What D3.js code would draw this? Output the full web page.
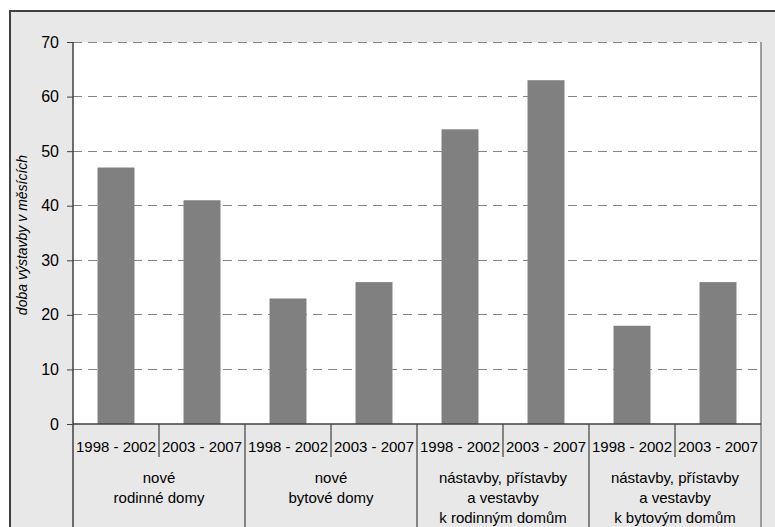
<!DOCTYPE html>
<html>
<head>
<meta charset="utf-8">
<script src="https://cdn.jsdelivr.net/npm/d3@7"></script>
<style>
  html, body { margin: 0; padding: 0; background: #ffffff; }
  svg { display: block; font-family: "Liberation Sans", Arial, sans-serif; }
</style>
</head>
<body>
<svg id="chart" width="775" height="527"></svg>
<script>
// Construction time (months) by building type and period
const groups = [
  ["nové", "rodinné domy"],
  ["nové", "bytové domy"],
  ["nástavby, přístavby", "a vestavby", "k rodinným domům"],
  ["nástavby, přístavby", "a vestavby", "k bytovým domům"]
];
const periods = ["1998 - 2002", "2003 - 2007"];
const values = [47, 41, 23, 26, 54, 63, 18, 26];
const yTicks = [0, 10, 20, 30, 40, 50, 60, 70];
const yTitle = "doba výstavby v měsících";

const svg = d3.select("#chart");
const W = 775, H = 527;
const plot = { left: 73, right: 761, top: 42, bottom: 424 };

// outer frame
svg.append("rect")
  .attr("x", 10).attr("y", 11)
  .attr("width", W + 20).attr("height", H + 20)
  .attr("fill", "#e8e8e8")
  .attr("stroke", "#404040").attr("stroke-width", 2);

// plot area
svg.append("rect")
  .attr("x", plot.left).attr("y", plot.top)
  .attr("width", plot.right - plot.left).attr("height", plot.bottom - plot.top)
  .attr("fill", "#ffffff");

const keys = [];
groups.forEach((g, gi) => periods.forEach((p, pi) => keys.push(gi + "|" + pi)));

const x = d3.scaleBand().domain(keys).range([plot.left, plot.right]).padding(0);
const y = d3.scaleLinear().domain([0, 70]).range([plot.bottom, plot.top]);

// gridlines
svg.append("g")
  .selectAll("line")
  .data(yTicks.filter(t => t > 0))
  .join("line")
  .attr("x1", plot.left).attr("x2", plot.right)
  .attr("y1", d => y(d)).attr("y2", d => y(d))
  .attr("stroke", "#858585").attr("stroke-width", 1)
  .attr("stroke-dasharray", "9,6")
  .attr("shape-rendering", "crispEdges");

// right border of plot, continuing through the category area
svg.append("line")
  .attr("x1", plot.right).attr("x2", plot.right)
  .attr("y1", plot.top).attr("y2", H)
  .attr("stroke", "#808080").attr("stroke-width", 1.5);

// bars
const barW = x.bandwidth() * 0.43;
svg.append("g")
  .selectAll("rect")
  .data(values)
  .join("rect")
  .attr("x", (d, i) => x(keys[i]) + (x.bandwidth() - barW) / 2)
  .attr("y", d => y(d))
  .attr("width", barW)
  .attr("height", d => y(0) - y(d))
  .attr("fill", "#808080");

// y axis
const yAxis = d3.axisLeft(y).tickValues(yTicks).tickSize(6).tickPadding(8);
const yg = svg.append("g")
  .attr("transform", `translate(${plot.left},0)`)
  .call(yAxis);
yg.select(".domain").remove();
yg.selectAll(".tick line").attr("stroke", "#404040");
yg.selectAll(".tick text")
  .attr("fill", "#000")
  .style("font-size", "16px")
  .style("font-family", "'Liberation Sans', Arial, sans-serif");

// left axis line, extending through the category area
svg.append("line")
  .attr("x1", plot.left).attr("x2", plot.left)
  .attr("y1", plot.top).attr("y2", H)
  .attr("stroke", "#404040").attr("stroke-width", 1.5);

// baseline
svg.append("line")
  .attr("x1", plot.left).attr("x2", plot.right)
  .attr("y1", y(0)).attr("y2", y(0))
  .attr("stroke", "#404040").attr("stroke-width", 1.5);

// category separators
const sep = svg.append("g");
keys.forEach((k, i) => {
  if (i === 0) return;
  const isGroup = i % periods.length === 0;
  sep.append("line")
    .attr("x1", x(k)).attr("x2", x(k))
    .attr("y1", y(0)).attr("y2", isGroup ? H : y(0) + 33)
    .attr("stroke", "#404040").attr("stroke-width", 1.2);
});

// period labels
svg.append("g")
  .selectAll("text")
  .data(keys)
  .join("text")
  .attr("x", d => x(d) + x.bandwidth() / 2)
  .attr("y", 452)
  .attr("text-anchor", "middle")
  .style("font-size", "15px")
  .attr("fill", "#000")
  .text(d => periods[+d.split("|")[1]]);

// group labels
groups.forEach((lines, gi) => {
  const cx = (x(gi + "|0") + x(gi + "|" + (periods.length - 1)) + x.bandwidth()) / 2;
  const t = svg.append("text")
    .attr("text-anchor", "middle")
    .style("font-size", "15px")
    .attr("fill", "#000");
  lines.forEach((ln, li) => {
    t.append("tspan").attr("x", cx).attr("y", 483 + li * 20).text(ln);
  });
});

// y axis title
svg.append("text")
  .attr("transform", "translate(27,235) rotate(-90)")
  .attr("text-anchor", "middle")
  .style("font-size", "14px")
  .style("font-style", "italic")
  .attr("fill", "#000")
  .text(yTitle);
</script>
</body>
</html>
